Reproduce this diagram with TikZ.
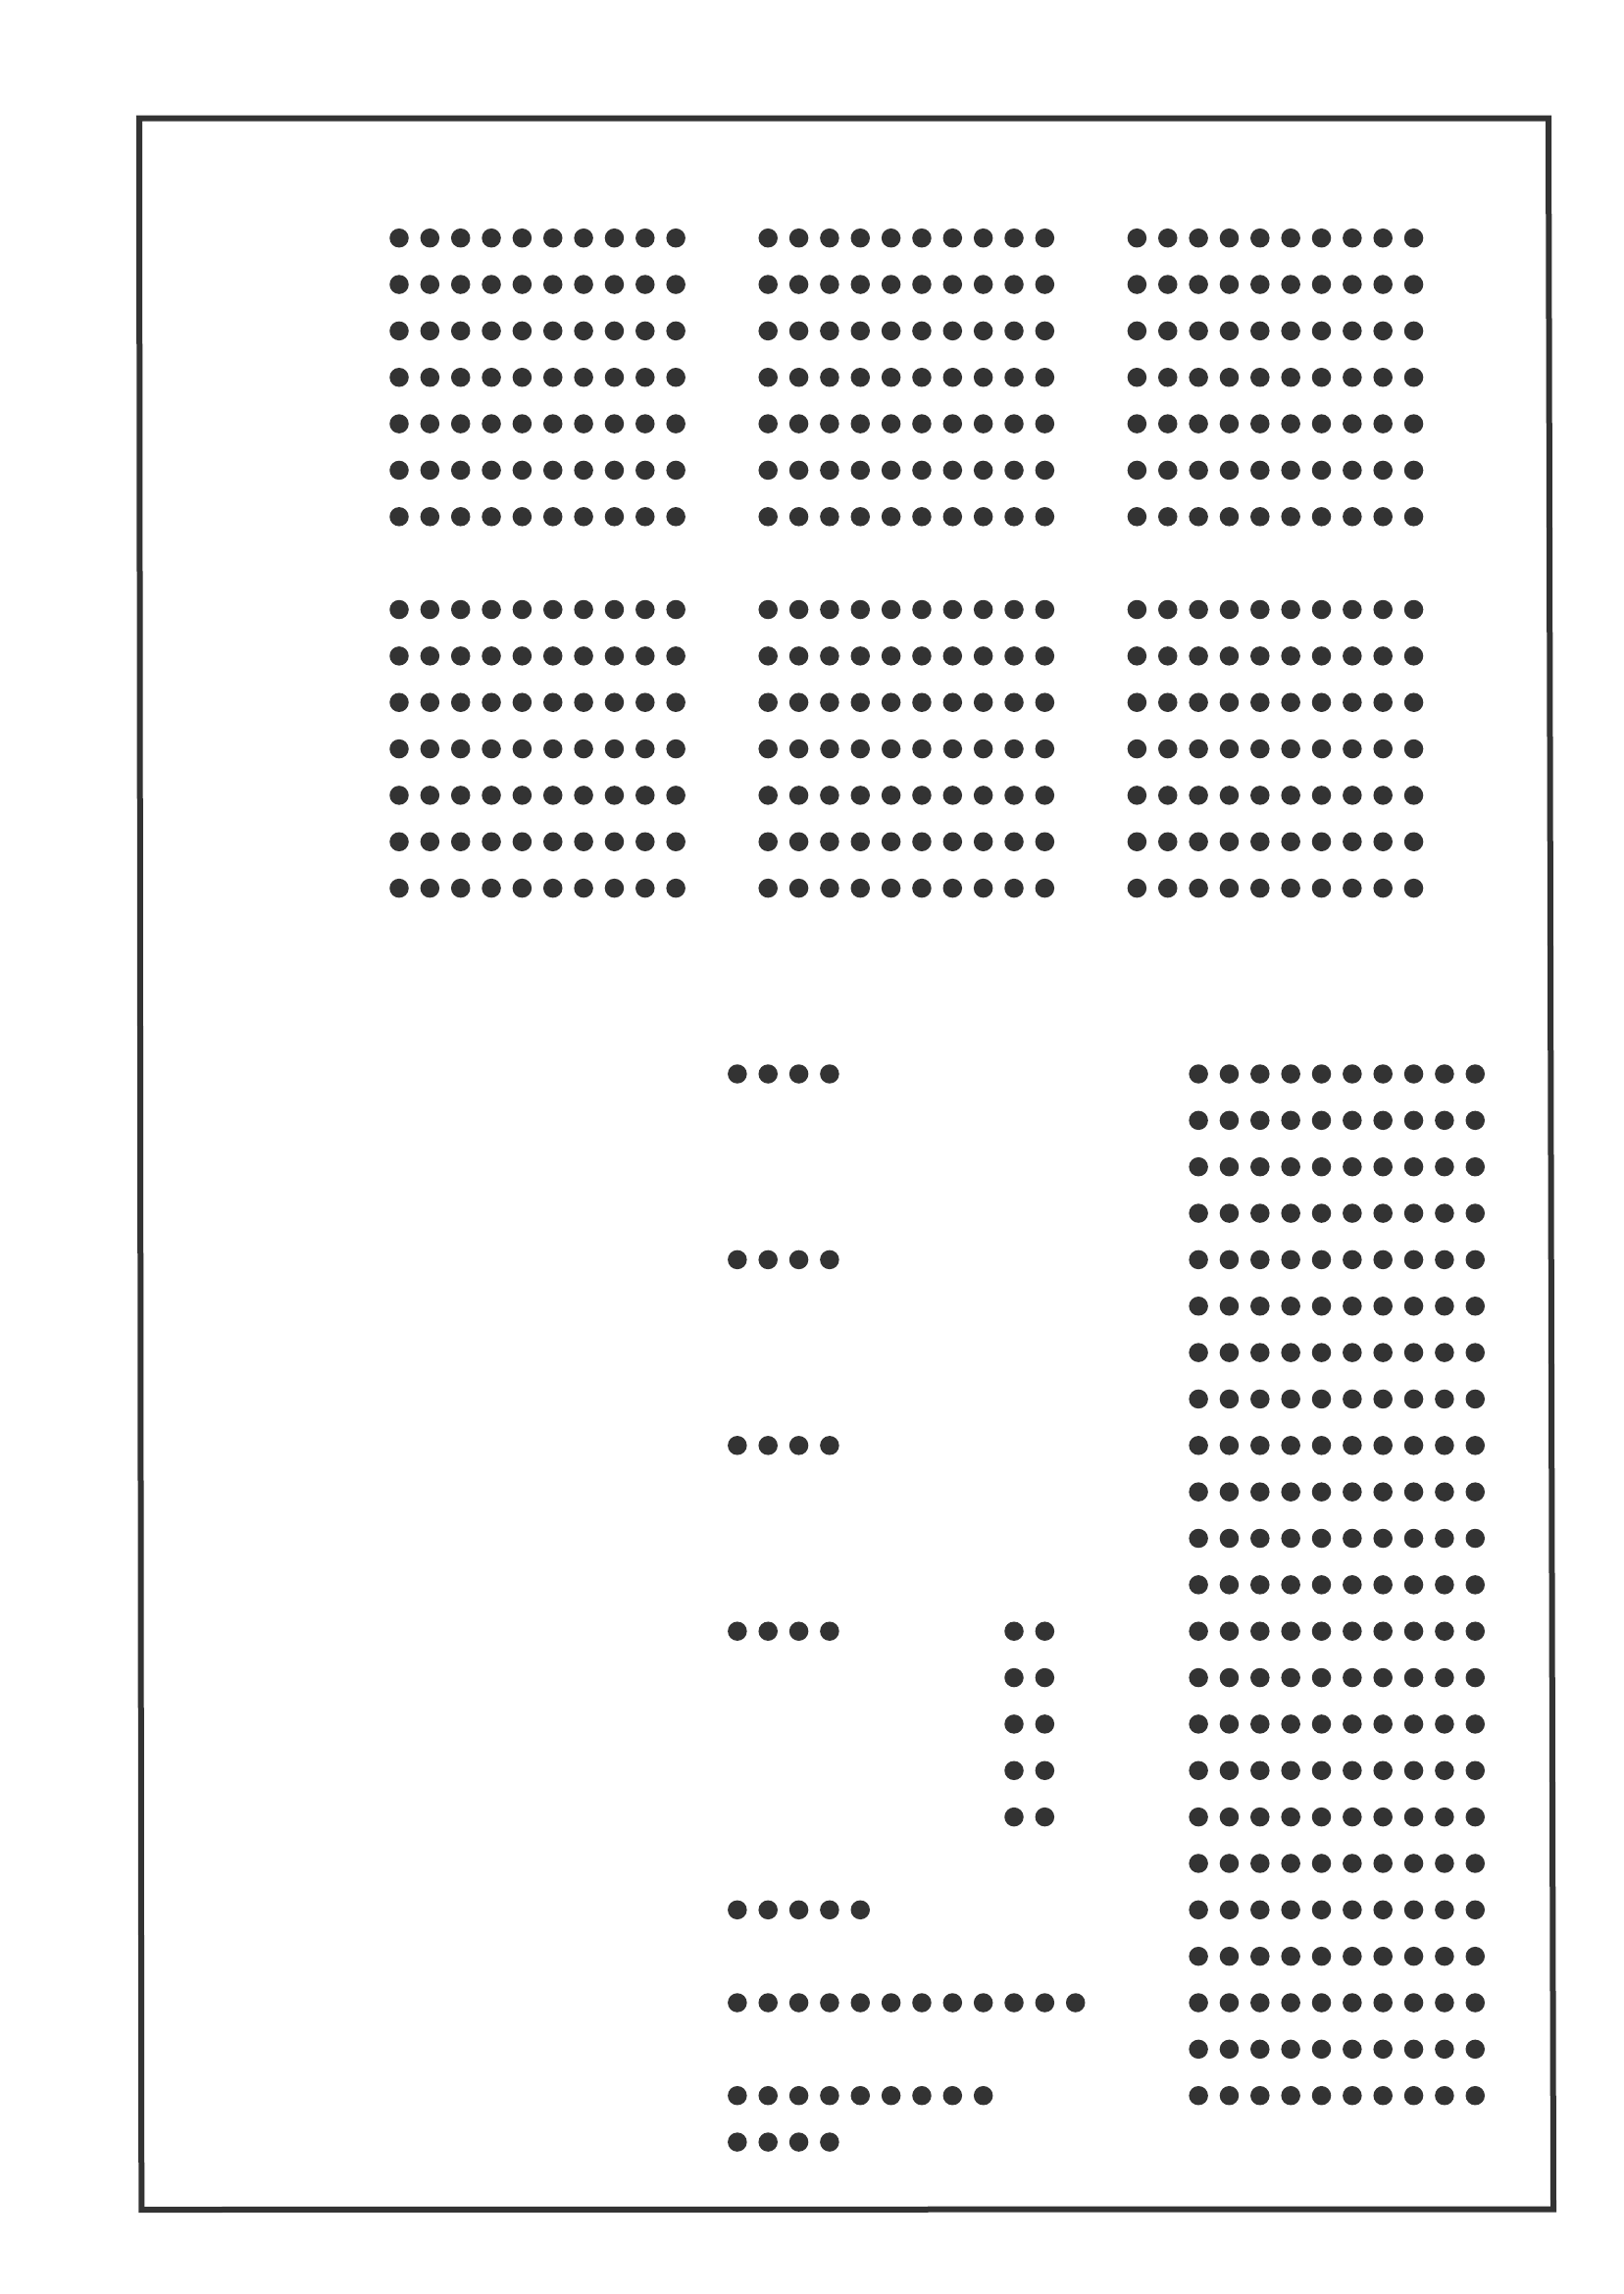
\documentclass[tikz,border=0pt]{standalone}
\begin{document}
\begin{tikzpicture}[x=1pt,y=-1pt,
  dotc/.style={fill=black!80},
  framec/.style={draw=black!80,line width=6pt,line join=miter}]
\useasboundingbox (0,0) rectangle (1656,2339);
\def\dx{31.35}\def\dy{47.35}\def\xo{407}\def\yo{242.7}\def\rr{9.75}
% frame
\draw[framec] (142,120.7) -- (1579,120.7) -- (1584,2252.5) -- (144.3,2253) -- cycle;
% top six blocks (10 x 7 each)
\foreach \bc in {0,12,24}{
  \foreach \br in {0,8}{
    \foreach \c in {0,...,9}{
      \foreach \r in {0,...,6}{
        \fill[dotc] ({\xo+(\bc+\c)*\dx},{\yo+(\br+\r)*\dy}) circle (\rr);
      }
    }
  }
}
% right tall block (10 x 23)
\foreach \c in {26,...,35}{
  \foreach \r in {18,...,40}{
    \fill[dotc] ({\xo+\c*\dx},{\yo+\r*\dy}) circle (\rr);
  }
}
% groups of four
\foreach \r in {18,22,26,30}{
  \foreach \c in {11,...,14}{
    \fill[dotc] ({\xo+\c*\dx},{\yo+\r*\dy}) circle (\rr);
  }
}
% pairs
\foreach \r in {30,...,34}{
  \foreach \c in {20,21}{
    \fill[dotc] ({\xo+\c*\dx},{\yo+\r*\dy}) circle (\rr);
  }
}
% bottom rows
\foreach \c in {11,...,15}{\fill[dotc] ({\xo+\c*\dx},{\yo+36*\dy}) circle (\rr);}
\foreach \c in {11,...,22}{\fill[dotc] ({\xo+\c*\dx},{\yo+38*\dy}) circle (\rr);}
\foreach \c in {11,...,19}{\fill[dotc] ({\xo+\c*\dx},{\yo+40*\dy}) circle (\rr);}
\foreach \c in {11,...,14}{\fill[dotc] ({\xo+\c*\dx},{\yo+41*\dy}) circle (\rr);}
\end{tikzpicture}
\end{document}
